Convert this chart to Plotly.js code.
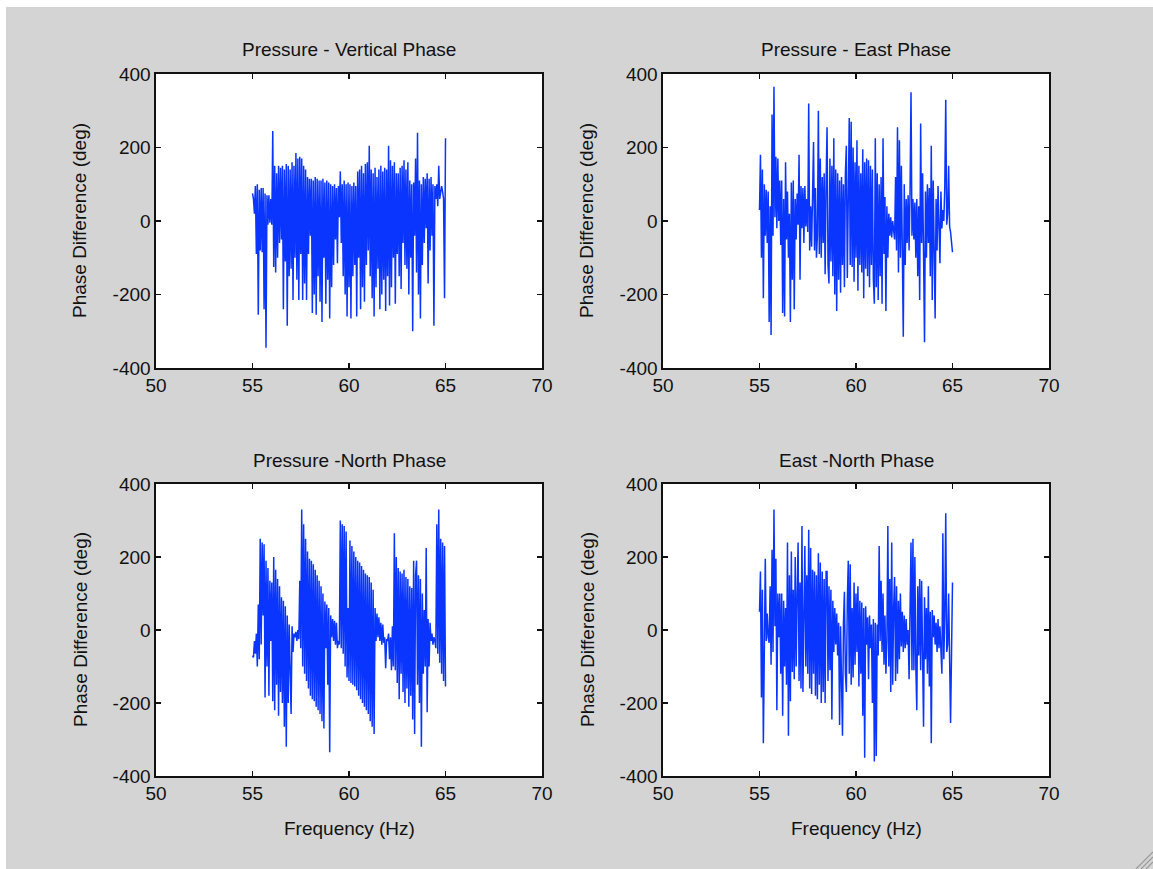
<!DOCTYPE html>
<html>
<head>
<meta charset="utf-8">
<script src="https://cdn.plot.ly/plotly-3.0.1.min.js"></script>
<style>
html,body{margin:0;padding:0;background:#ffffff;overflow:hidden;}
#chart{position:absolute;left:0;top:0;width:1153px;height:869px;}
</style>
</head>
<body>
<div id="chart"></div>
<script>
// Frequency grid (Hz)
const freq = [
55.00,55.05,55.10,55.15,55.20,55.25,55.30,55.35,55.40,55.45,
55.50,55.55,55.60,55.65,55.70,55.75,55.80,55.85,55.90,55.95,
56.00,56.05,56.10,56.15,56.20,56.25,56.30,56.35,56.40,56.45,
56.50,56.55,56.60,56.65,56.70,56.75,56.80,56.85,56.90,56.95,
57.00,57.05,57.10,57.15,57.20,57.25,57.30,57.35,57.40,57.45,
57.50,57.55,57.60,57.65,57.70,57.75,57.80,57.85,57.90,57.95,
58.00,58.05,58.10,58.15,58.20,58.25,58.30,58.35,58.40,58.45,
58.50,58.55,58.60,58.65,58.70,58.75,58.80,58.85,58.90,58.95,
59.00,59.05,59.10,59.15,59.20,59.25,59.30,59.35,59.40,59.45,
59.50,59.55,59.60,59.65,59.70,59.75,59.80,59.85,59.90,59.95,
60.00,60.05,60.10,60.15,60.20,60.25,60.30,60.35,60.40,60.45,
60.50,60.55,60.60,60.65,60.70,60.75,60.80,60.85,60.90,60.95,
61.00,61.05,61.10,61.15,61.20,61.25,61.30,61.35,61.40,61.45,
61.50,61.55,61.60,61.65,61.70,61.75,61.80,61.85,61.90,61.95,
62.00,62.05,62.10,62.15,62.20,62.25,62.30,62.35,62.40,62.45,
62.50,62.55,62.60,62.65,62.70,62.75,62.80,62.85,62.90,62.95,
63.00,63.05,63.10,63.15,63.20,63.25,63.30,63.35,63.40,63.45,
63.50,63.55,63.60,63.65,63.70,63.75,63.80,63.85,63.90,63.95,
64.00,64.05,64.10,64.15,64.20,64.25,64.30,64.35,64.40,64.45,
64.50,64.55,64.60,64.65,64.70,64.75,64.80,64.85,64.90,64.95,
65.00];

// Pressure - Vertical Phase (deg)
const pressVert = [
75,60,20,95,-90,100,-255,85,-80,90,
-85,90,-240,75,-345,70,-10,70,-5,60,
-10,245,-125,150,-140,130,-100,150,-60,145,
-50,150,-240,140,-110,155,-285,150,-150,140,
-130,160,-215,150,-100,185,-160,170,-215,175,
-90,170,-215,150,-170,140,-215,120,-90,115,
-40,115,-250,110,-200,120,-255,115,-150,110,
-220,110,-275,115,-100,105,-225,110,-160,105,
-265,100,-180,95,-120,100,-50,90,-115,95,
10,135,-60,100,-150,110,-200,100,-260,105,
-180,100,-265,95,-150,105,-120,95,-260,135,
-100,140,-240,150,-180,130,-220,155,-120,160,
-80,205,-150,140,-210,130,-260,145,-180,120,
-130,140,-240,150,-200,135,-160,145,-245,140,
-150,205,-230,165,-180,150,-100,160,-225,130,
-90,130,-150,145,-185,150,-60,165,-120,140,
-130,160,-200,110,-100,100,-300,105,-40,170,
-140,240,-200,110,-265,100,-120,120,-60,115,
-20,130,-170,115,-80,120,-40,100,-285,95,
60,100,40,150,60,75,95,80,60,-210,
225];

// Pressure - East Phase (deg)
const pressEast = [
30,180,-100,140,-210,100,-40,85,-60,80,
-275,40,-310,290,-40,365,10,175,-20,170,
0,110,-65,110,-250,60,-260,160,-50,80,
-100,20,-275,105,-160,110,-240,60,-50,75,
-10,180,-160,95,-20,90,-60,95,-15,60,
-30,320,-80,40,-70,70,215,-80,90,-100,
-40,300,-90,170,-100,120,-60,130,-145,100,
255,-120,-170,170,-110,150,-150,225,-200,140,
-245,130,-160,110,-195,120,-120,100,-180,130,
205,-155,120,280,-120,270,-125,200,-165,160,
-100,220,-190,150,-120,130,-140,195,-210,160,
-130,170,-150,165,-180,150,-120,140,-160,-225,
225,-180,130,-215,100,-150,120,-225,225,-90,
65,-245,40,-100,20,-40,10,-45,0,-40,
-50,120,-80,255,-140,220,-100,150,-60,-315,
100,-120,60,-60,70,-80,80,350,-40,60,
-50,50,-100,60,-150,40,-215,265,-60,130,
-90,-330,80,-100,100,-60,90,-150,205,-215,
110,-120,-265,60,-80,95,-40,-115,80,-20,
30,0,90,330,-10,20,150,-15,-30,-55,
-85];

// Pressure - North Phase (deg)
const pressNorth = [
-70,-75,-30,-65,-10,-100,70,-80,250,-40,
240,40,235,-185,190,-100,170,-180,135,-30,
130,-195,200,-220,165,-150,140,-235,120,-170,
90,-200,80,-265,65,-320,40,-200,15,-130,
-230,10,-60,-10,-20,-5,-30,0,-25,135,
-50,330,-100,290,-120,250,-140,215,-160,195,
-180,190,-190,180,-195,165,-210,150,-220,135,
-230,120,-250,100,-270,78,-50,70,-150,60,
-335,40,-20,30,-30,25,-40,20,-50,-30,
-40,300,-50,290,-65,285,-100,270,-130,60,
-140,245,-145,230,-150,215,-155,200,-165,190,
-180,185,-190,175,-200,165,-210,155,-220,150,
-230,145,-250,130,-265,110,-285,60,-30,45,
-20,35,-30,20,-40,15,-35,-20,-105,-25,
-30,-10,-80,-20,-110,10,-100,265,-110,200,
-145,170,-190,160,-120,155,-170,165,-200,145,
-160,140,-210,120,-180,115,-245,190,-285,150,
190,-150,150,-200,140,-320,100,-120,55,-100,
225,-225,30,-100,20,-30,-10,-40,-20,-30,
-50,290,-65,330,-90,250,-120,240,-140,230,
-155];

// East - North Phase (deg)
const eastNorth = [
50,160,-185,110,-310,80,195,-30,45,-20,
-35,120,-95,220,-60,330,10,195,-220,100,
-20,100,-120,100,-235,80,-100,60,-150,240,
-290,150,-195,215,-115,110,-135,200,-100,100,
240,-140,130,-160,285,-170,120,230,-100,150,
-120,275,-160,225,-175,165,-120,160,-180,150,
-190,210,-150,185,-200,160,-170,140,-200,160,
160,-140,120,-110,110,-245,80,-60,60,-40,
45,-70,20,-260,10,-200,-290,20,105,-120,
-170,80,190,-120,180,-150,60,-130,130,-95,
100,-60,120,-155,80,-120,75,-235,60,-350,
65,-40,35,-135,40,-50,15,-200,30,-360,
20,-345,15,-70,230,-30,135,-60,100,-95,
40,-120,-30,285,-100,140,-170,240,-150,60,
145,-140,120,-120,80,-80,100,-45,50,-60,
40,-50,30,-40,0,-135,40,240,-110,250,
-110,200,-100,-220,120,-70,140,-110,135,-80,
-265,90,-80,60,-120,120,-155,50,-310,55,
-20,40,-40,20,-60,30,-50,10,-40,-120,
265,-80,40,320,-60,-40,100,-80,-255,-60,
130];

const panelTitles = ['Pressure - Vertical Phase','Pressure - East Phase','Pressure -North Phase','East -North Phase'];
const yTitle = 'Phase Difference (deg)';
const xTitle = 'Frequency (Hz)';
const xTicks = [50,55,60,65,70];
const yTicks = [-400,-200,0,200,400];

const W = 1153, H = 869;
const px = v => v / W;
const py = v => 1 - v / H;
const BLUE = '#0a35ff';
const FONT = 'Liberation Sans, Arial, sans-serif';
const INK = '#111111';
const FS = 19;

const series = [pressVert, pressEast, pressNorth, eastNorth];
const boxes = [
  {x0:156, x1:542, y0:74,  y1:368},
  {x0:663, x1:1049, y0:74,  y1:368},
  {x0:156, x1:542, y0:484, y1:776},
  {x0:663, x1:1049, y0:484, y1:776}
];

const traces = series.map((s, i) => ({
  x: freq, y: s, type: 'scatter', mode: 'lines',
  line: {color: BLUE, width: 1.5},
  xaxis: i === 0 ? 'x' : 'x' + (i + 1),
  yaxis: i === 0 ? 'y' : 'y' + (i + 1),
  hoverinfo: 'skip', showlegend: false
}));

const layout = {
  width: W, height: H,
  margin: {l:0, r:0, t:0, b:0, pad:0},
  paper_bgcolor: '#d4d4d4',
  plot_bgcolor: '#ffffff',
  showlegend: false,
  font: {family: FONT, size: FS, color: INK},
  annotations: [],
  shapes: [
    {type:'rect', xref:'paper', yref:'paper', x0:0, x1:1, y0:py(7), y1:1, fillcolor:'#ffffff', line:{width:0}, layer:'below'},
    {type:'rect', xref:'paper', yref:'paper', x0:0, x1:px(6), y0:0, y1:1, fillcolor:'#ffffff', line:{width:0}, layer:'below'}
  ]
};

boxes.forEach((b, i) => {
  const sfx = i === 0 ? '' : String(i + 1);
  layout['xaxis' + sfx] = {
    domain: [px(b.x0), px(b.x1)], range: [50, 70],
    anchor: 'y' + sfx, tickvals: xTicks, ticktext: xTicks.map(String),
    ticks: 'inside', ticklen: 5, tickwidth: 1.2, tickcolor: INK,
    showline: true, mirror: 'ticks', linecolor: INK, linewidth: 1.6,
    showgrid: false, zeroline: false, fixedrange: true,
    tickfont: {family: FONT, size: FS, color: INK}
  };
  layout['yaxis' + sfx] = {
    domain: [py(b.y1), py(b.y0)], range: [-400, 400],
    anchor: 'x' + sfx, tickvals: yTicks, ticktext: yTicks.map(String),
    ticks: 'inside', ticklen: 5, tickwidth: 1.2, tickcolor: INK,
    showline: true, mirror: 'ticks', linecolor: INK, linewidth: 1.6,
    showgrid: false, zeroline: false, fixedrange: true,
    tickfont: {family: FONT, size: FS, color: INK}
  };
  const cx = (b.x0 + b.x1) / 2;
  layout.annotations.push({
    text: panelTitles[i], xref:'paper', yref:'paper',
    x: px(cx), y: py(b.y0 - 24), xanchor:'center', yanchor:'middle',
    showarrow:false, font:{family: FONT, size: FS, color: INK}
  });
  layout.annotations.push({
    text: yTitle, xref:'paper', yref:'paper', textangle: -90,
    x: px(b.x0 - 76), y: py((b.y0 + b.y1) / 2), xanchor:'center', yanchor:'middle',
    showarrow:false, font:{family: FONT, size: FS, color: INK}
  });
  if (i >= 2) {
    layout.annotations.push({
      text: xTitle, xref:'paper', yref:'paper',
      x: px(cx), y: py(b.y1 + 52), xanchor:'center', yanchor:'middle',
      showarrow:false, font:{family: FONT, size: FS, color: INK}
    });
  }
});

// resize grip in bottom-right corner
[[1136,869,1153,852],[1141,869,1153,857],[1146,869,1153,862]].forEach(g => {
  layout.shapes.push({type:'line', xref:'paper', yref:'paper',
    x0:px(g[0]), y0:py(g[1]), x1:px(g[2]), y1:py(g[3]),
    line:{color:'#9a9a9a', width:1.2}});
});

Plotly.newPlot('chart', traces, layout, {staticPlot:true, displayModeBar:false});
</script>
</body>
</html>
